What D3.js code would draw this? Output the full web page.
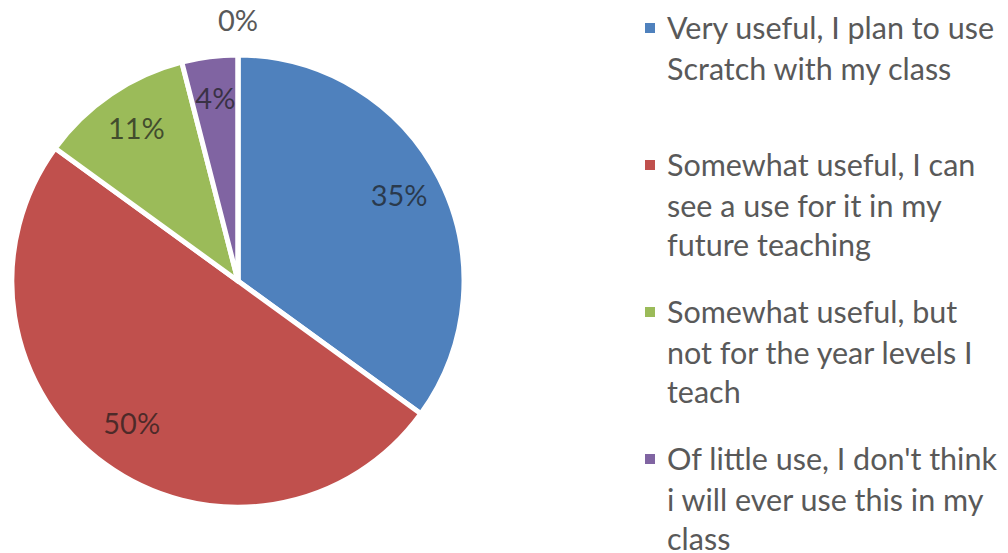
<!DOCTYPE html>
<html>
<head>
<meta charset="utf-8">
<script src="https://cdn.jsdelivr.net/npm/d3@7"></script>
<style>
  html, body { margin: 0; padding: 0; background: #fff; }
  svg { display: block; font-family: Lato, "Open Sans", sans-serif; }
</style>
</head>
<body>
<div id="vis"></div>
<script>
// survey answers, legend text as it wraps in the original
const categories = [
    ["Very useful, I plan to use", "Scratch with my class"],
    ["Somewhat useful, I can", "see a use for it in my", "future teaching"],
    ["Somewhat useful, but", "not for the year levels I", "teach"],
    ["Of little use, I don't think", "i will ever use this in my", "class"],
    ["Not useful at all"]
];
const values = [35, 50, 11, 4, 0];
const colors = ["#4f81bd", "#c0504d", "#9bbb59", "#8064a2", "#4bacc6"];

const width = 1008;
const height = 553;
const cx = 238, cy = 281, radius = 226;
const lineH = 41;

const svg = d3.select("#vis").append("svg")
    .attr("width", width).attr("height", height);

const pie = d3.pie().sort(null).value(d => d);
const arcs = pie(values);
const arc = d3.arc().innerRadius(0).outerRadius(radius);
const labelArc = d3.arc().innerRadius(radius * 0.8).outerRadius(radius * 0.8);
const outerArc = d3.arc().innerRadius(radius + 34).outerRadius(radius + 34);

const total = d3.sum(values);
const pct = d => Math.round(d / total * 100) + "%";

let pieG = svg.append("g").attr("transform", `translate(${cx}, ${cy})`);

pieG.selectAll("path.slice").data(arcs)
    .enter().append("path")
    .attr("class", "slice")
    .attr("d", arc)
    .attr("fill", (d, i) => colors[i])
    .attr("stroke", "#fff")
    .attr("stroke-width", 5)
    .attr("stroke-linejoin", "round");

// labels, empty slices get pushed outside the pie
pieG.selectAll("text.lbl").data(arcs)
    .enter().append("text")
    .attr("class", "lbl")
    .attr("transform", d => {
        let c = (d.endAngle - d.startAngle) > 0 ? labelArc.centroid(d).map((v, k) => k ? v - 3 : v) : outerArc.centroid(d);
        return `translate(${c[0]}, ${c[1]})`;
    })
    .attr("text-anchor", "middle")
    .attr("dy", "0.35em")
    .style("font-size", "29px")
    .attr("fill", d => d.value > 0 ? "#1a1a1a" : "#595959")
    .attr("fill-opacity", d => d.value > 0 ? 0.7 : 1)
    .text(d => pct(d.value));

// legend - the original is cropped, only entries that start inside the frame show
const legendX = 667;
const entryTop = i => i === 0 ? 28 : 165 + (i - 1) * 147;
const shown = categories.filter((d, i) => entryTop(i) < height);

let legendG = svg.selectAll("g.legend").data(shown)
    .enter().append("g")
    .attr("class", "legend")
    .attr("transform", (d, i) => `translate(${legendX}, ${entryTop(i)})`);

legendG.append("rect")
    .attr("x", -22).attr("y", -5)
    .attr("width", 10).attr("height", 10)
    .attr("fill", (d, i) => colors[i]);

legendG.each(function (lines) {
    let t = d3.select(this).append("text")
        .attr("fill", "#595959")
        .style("font-size", "30.5px");
    t.selectAll("tspan").data(lines)
        .enter().append("tspan")
        .attr("x", 0)
        .attr("y", (d, i) => i * lineH - (i > 1 ? 2 : 0))
        .attr("dy", "0.35em")
        .text(d => d);
});
</script>
</body>
</html>
